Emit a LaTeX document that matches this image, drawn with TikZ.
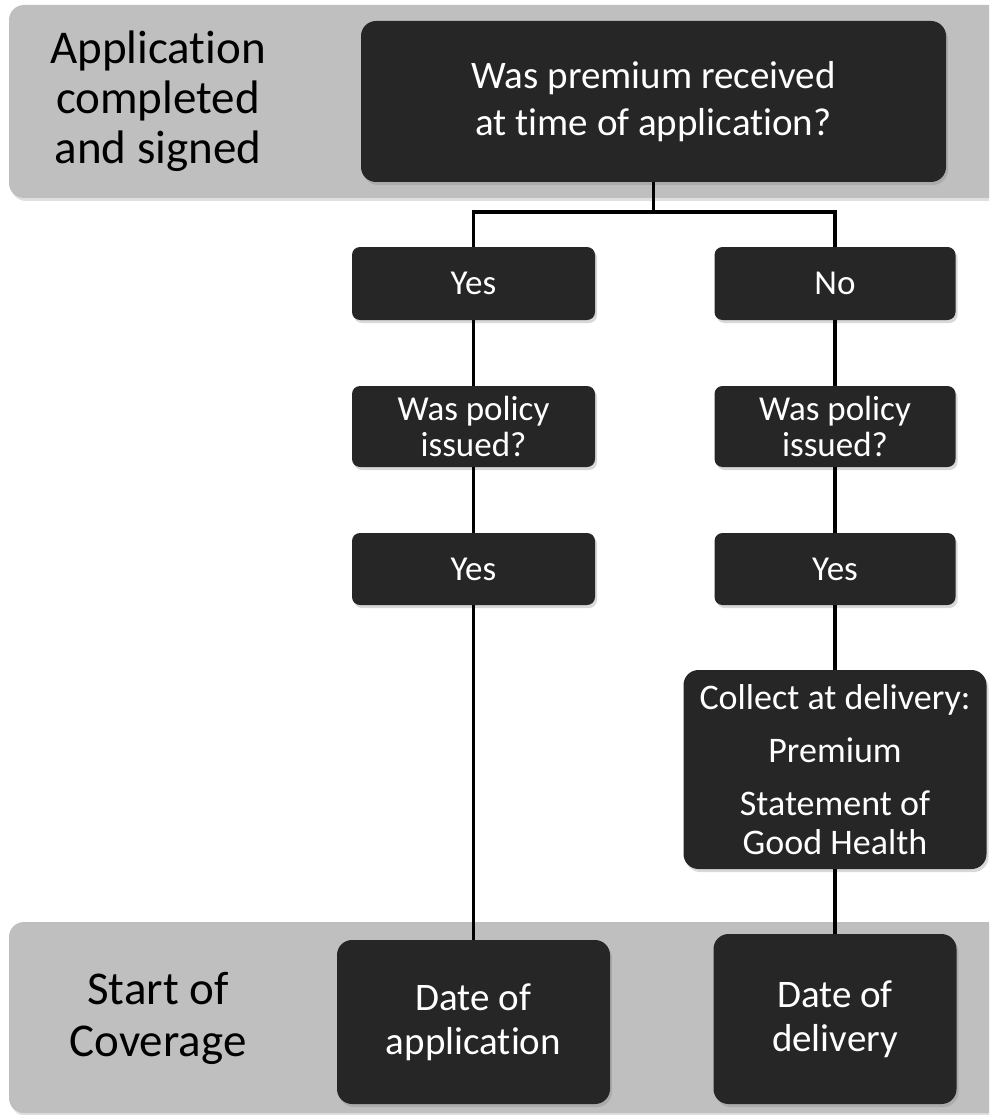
\documentclass[tikz,border=0pt]{standalone}
\usepackage{fontspec}
\setmainfont{Carlito}[RawFeature={-liga;-clig;-calt;-dlig}]
\usetikzlibrary{shadows}
\definecolor{boxfill}{HTML}{262626}
\definecolor{bandfill}{HTML}{BFBFBF}
\begin{document}
\begin{tikzpicture}[x=1pt,y=-1pt,
  band/.style={fill=bandfill, rounded corners=15pt,
    drop shadow={opacity=0.25, shadow xshift=2pt, shadow yshift=-3pt}},
  darkbox/.style={fill=boxfill, text=white, align=center, inner sep=0pt,
    drop shadow={opacity=0.3, shadow xshift=2pt, shadow yshift=-3pt}},
  smallbox/.style={darkbox, rounded corners=8pt, minimum width=243pt, minimum height=73pt,
    font=\fontsize{35}{36}\selectfont},
  bigbox/.style={darkbox, rounded corners=15pt},
  bandlabel/.style={align=center, text=black, font=\fontsize{47}{50}\selectfont},
  link/.style={line width=3.6pt, draw=black}]
\useasboundingbox (0,0) rectangle (989,1115);
\clip (0,0) rectangle (989,1115);
\fill[white] (0,0) rectangle (989,1115);

% grey bands
\path[band] (9,5) rectangle (1020,198);
\path[band] (9,922) rectangle (1020,1113);
\node[bandlabel] (applbl) at (158,101) {Application\\completed\\and signed};
\node[bandlabel, font=\fontsize{47}{52}\selectfont] (startlbl) at (158,1018) {Start of\\Coverage};

% question box
\node[bigbox, minimum width=585pt, minimum height=161pt,
  font=\fontsize{39}{47}\selectfont] (q) at (653.5,101.5)
  {Was premium received\\at time of application?};

% left branch
\node[smallbox] (yesA) at (473.5,283.5) {Yes};
\node[smallbox, minimum height=81pt] (polA) at (473.5,426.5) {Was policy\\issued?};
\node[smallbox, minimum height=72pt] (yesB) at (473.5,569) {Yes};
\node[bigbox, minimum width=273pt, minimum height=164pt,
  font=\fontsize{39}{44}\selectfont] (doa) at (473.5,1022) {Date of\\application};

% right branch
\node[smallbox, minimum width=241pt] (noA) at (835,283.5) {No};
\node[smallbox, minimum width=241pt, minimum height=81pt] (polB) at (835,426.5) {Was policy\\issued?};
\node[smallbox, minimum width=241pt, minimum height=72pt] (yesC) at (835,569) {Yes};
\node[bigbox, minimum width=303pt, minimum height=199pt,
  font=\fontsize{36}{39}\selectfont] (coll) at (835,769.5)
  {Collect at delivery:\\[14pt]Premium\\[14pt]Statement of\\Good Health};
\node[bigbox, minimum width=243pt, minimum height=170pt,
  font=\fontsize{39}{44}\selectfont] (dod) at (835,1019) {Date of\\delivery};

% connectors
\coordinate (fork) at (653.5,212);
\draw[link] (q.south) -- (fork);
\draw[link] (yesA.north) |- (fork) -| (noA.north);
\draw[link] (yesA.south) -- (polA.north);
\draw[link] (polA.south) -- (yesB.north);
\draw[link] (yesB.south) -- (doa.north);
\draw[link] (noA.south) -- (polB.north);
\draw[link] (polB.south) -- (yesC.north);
\draw[link] (yesC.south) -- (coll.north);
\draw[link] (coll.south) -- (dod.north);
\end{tikzpicture}
\end{document}
